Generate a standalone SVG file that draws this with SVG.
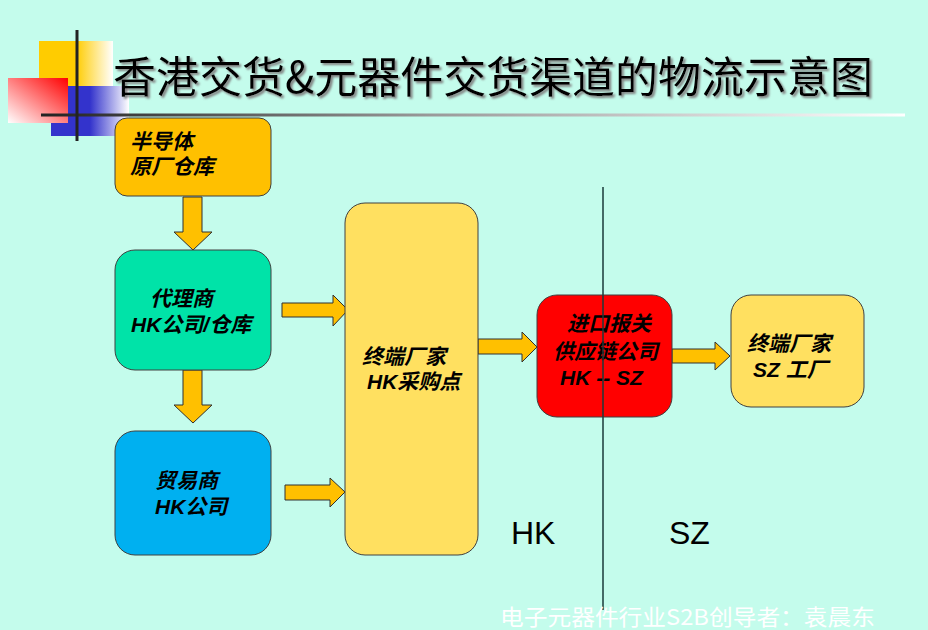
<svg xmlns="http://www.w3.org/2000/svg" width="928" height="630" viewBox="0 0 928 630">
<defs>
<linearGradient id="gY" x1="0" y1="0" x2="1" y2="0"><stop offset="0" stop-color="#FFCC00"/><stop offset="0.5" stop-color="#FFCC00"/><stop offset="1" stop-color="#FFFFFF"/></linearGradient>
<linearGradient id="gR" x1="1" y1="0" x2="0" y2="1"><stop offset="0" stop-color="#FF0000"/><stop offset="1" stop-color="#FFFFFF"/></linearGradient>
<linearGradient id="gB" x1="0" y1="0" x2="1" y2="0"><stop offset="0" stop-color="#3333CC"/><stop offset="0.5" stop-color="#3333CC"/><stop offset="1" stop-color="#FFFFFF"/></linearGradient>
<linearGradient id="gL" gradientUnits="userSpaceOnUse" x1="41" y1="0" x2="905" y2="0"><stop offset="0" stop-color="#222222"/><stop offset="0.45" stop-color="#999999"/><stop offset="1" stop-color="#FFFFFF"/></linearGradient>
<filter id="shadow" x="-5%" y="-20%" width="110%" height="140%"><feDropShadow dx="2" dy="2" stdDeviation="0.8" flood-color="#808080"/></filter>
<style>
.node{stroke:#404040;stroke-width:1}
.arr{fill:#FFC000;stroke:#303030;stroke-width:1;stroke-linejoin:miter}
.t{font-family:"Liberation Sans","Noto Sans CJK SC",sans-serif;font-size:21px;font-weight:bold;font-style:italic;fill:#000}
.title{font-family:"Noto Sans CJK SC","Liberation Sans",sans-serif;font-size:43px}
.lbl{font-family:"Liberation Sans","DejaVu Sans",sans-serif;font-size:32px;fill:#000}
</style>
</defs>
<rect width="928" height="630" fill="#C4FCEC"/>
<g id="decor">
<rect x="39" y="41" width="74" height="46" fill="url(#gY)"/>
<rect x="51" y="86" width="78" height="50" fill="url(#gB)"/>
<rect x="8" y="78" width="60" height="45" fill="url(#gR)"/>
<line x1="41" y1="115" x2="905" y2="115" stroke="url(#gL)" stroke-width="3"/>
<line x1="77" y1="30" x2="77" y2="141" stroke="#222" stroke-width="3"/>
</g>
<g id="title">
<text class="title" x="113" y="93" fill="#000" filter="url(#shadow)" textLength="760" lengthAdjust="spacingAndGlyphs">香港交货&amp;元器件交货渠道的物流示意图</text>
</g>
<g id="connectors">
<polygon class="arr" points="183,197 202,197 202,232 212,232 193,250 174,232 183,232"/>
<polygon class="arr" points="183,370 202,370 202,405 212,405 193,423 174,405 183,405"/>
<polygon class="arr" points="282,303 333,303 333,295 348,310 333,326 333,317 282,317"/>
<polygon class="arr" points="285,485 330,485 330,478 345,492 330,507 330,500 285,500"/>
<polygon class="arr" points="478,339 522,339 522,332 537,347 522,362 522,354 478,354"/>
<polygon class="arr" points="672,349 715,349 715,342 730,356 715,370 715,363 672,363"/>
</g>
<g id="n-factory">
<rect class="node" x="115" y="118" width="156" height="78" rx="12" fill="#FFC000"/>
<text class="t" x="130" y="149">半导体</text>
<text class="t" x="130" y="174">原厂仓库</text>
</g>
<g id="n-agent">
<rect class="node" x="115" y="250" width="156" height="120" rx="20" fill="#00E3A8"/>
<text class="t" x="150" y="306">代理商</text>
<text class="t" x="131" y="332">HK公司/仓库</text>
</g>
<g id="n-trader">
<rect class="node" x="115" y="431" width="156" height="124" rx="20" fill="#00B0F0"/>
<text class="t" x="155" y="488">贸易商</text>
<text class="t" x="155" y="514">HK公司</text>
</g>
<g id="n-hkbuy">
<rect class="node" x="345" y="203" width="133" height="352" rx="20" fill="#FFE060"/>
<text class="t" x="362" y="364">终端厂家</text>
<text class="t" x="367" y="389">HK采购点</text>
</g>
<g id="n-customs">
<rect class="node" x="537" y="295" width="135" height="122" rx="20" fill="#FF0000"/>
<text class="t" x="567" y="331">进口报关</text>
<text class="t" x="553" y="359">供应链公司</text>
<text class="t" x="560" y="385">HK -- SZ</text>
</g>
<g id="n-szfactory">
<rect class="node" x="731" y="295" width="133" height="112" rx="20" fill="#FFE060"/>
<text class="t" x="747" y="351">终端厂家</text>
<text class="t" x="753" y="377">SZ 工厂</text>
</g>
<g id="border">
<line x1="603" y1="187" x2="603" y2="610" stroke="#1A3A3A" stroke-width="1.5"/>
<text class="lbl" x="511" y="544">HK</text>
<text class="lbl" x="669" y="544">SZ</text>
</g>
<text x="500" y="625" font-family="Noto Sans CJK SC,Liberation Sans,sans-serif" font-size="22" fill="#FFFFFF" textLength="375" lengthAdjust="spacingAndGlyphs">电子元器件行业S2B创导者：袁晨东</text>
</svg>
